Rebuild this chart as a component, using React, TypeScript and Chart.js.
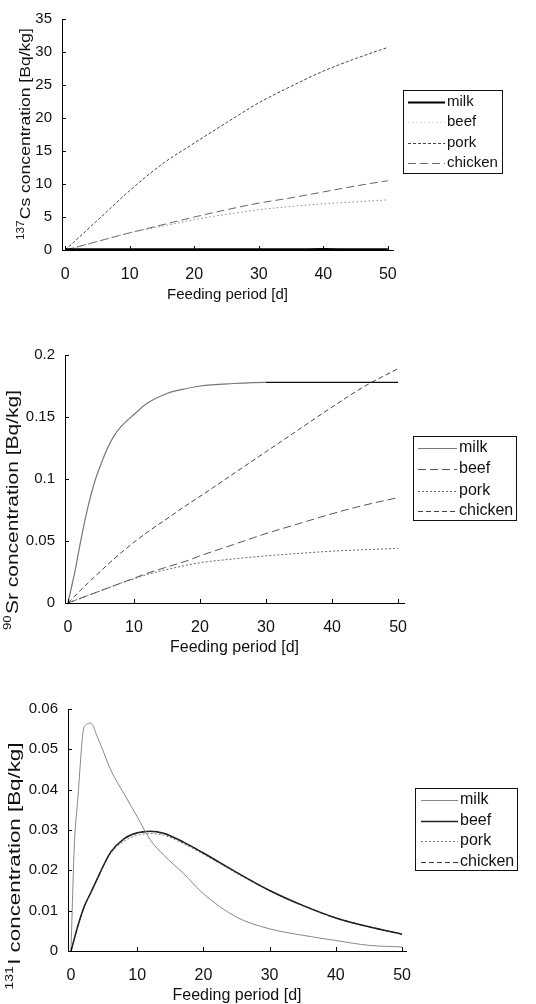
import React, { useEffect, useRef } from "react";
import { Chart, registerables } from "chart.js";

Chart.register(...registerables);
Chart.defaults.font.family = "'Liberation Sans', Arial, sans-serif";

// ---------- data ----------
const seriesNames = ["milk", "beef", "pork", "chicken"];
const xTicks = [0, 10, 20, 30, 40, 50];

// 137Cs
const csDays = [0, 2, 5, 10, 15, 20, 25, 30, 35, 40, 45, 50];
const csMilk = [0.1, 0.1, 0.1, 0.1, 0.1, 0.1, 0.1, 0.1, 0.1, 0.15, 0.1, 0.1];
const csBeef = [0, 0.5, 1.3, 2.6, 3.6, 4.6, 5.4, 6.1, 6.6, 7.0, 7.3, 7.6];
const csPork = [0, 1.8, 4.5, 9.0, 13.0, 16.2, 19.3, 22.3, 24.8, 27.1, 29.0, 30.7];
const csChicken = [0, 0.5, 1.3, 2.6, 3.8, 5.0, 6.1, 7.1, 7.9, 8.8, 9.7, 10.5];
const csYTicks = [0, 5, 10, 15, 20, 25, 30, 35];

// 90Sr
const srDays = [0, 0.5, 1, 2, 3, 4, 5, 6, 7, 8, 10, 12, 15, 18, 20, 25, 30, 35, 40, 45, 50];
const srMilk = [0, 0.012, 0.024, 0.052, 0.077, 0.097, 0.112, 0.125, 0.135, 0.142, 0.152, 0.161, 0.169, 0.173, 0.175, 0.177, 0.178, 0.178, 0.178, 0.178, 0.178];
const srBeef = [0, 0.001, 0.002, 0.004, 0.006, 0.008, 0.01, 0.012, 0.014, 0.016, 0.02, 0.024, 0.029, 0.034, 0.038, 0.047, 0.056, 0.064, 0.072, 0.079, 0.085];
const srPork = [0, 0.001, 0.002, 0.004, 0.006, 0.008, 0.01, 0.012, 0.014, 0.016, 0.0195, 0.023, 0.027, 0.0305, 0.0325, 0.0355, 0.038, 0.04, 0.0418, 0.043, 0.044];
const srChicken = [0, 0.0027, 0.0054, 0.0108, 0.016, 0.021, 0.026, 0.031, 0.0357, 0.0403, 0.049, 0.057, 0.068, 0.079, 0.086, 0.104, 0.122, 0.14, 0.158, 0.175, 0.189];
const srYTicks = [0, 0.05, 0.1, 0.15, 0.2];

// 131I
const iDays = [0, 0.5, 1, 2, 3, 4, 5, 6, 8, 10, 12, 14, 17, 20, 25, 30, 35, 40, 45, 50];
const iMilk = [0, 0.026, 0.037, 0.0556, 0.0565, 0.053, 0.049, 0.0449, 0.039, 0.0333, 0.0275, 0.0238, 0.0192, 0.0142, 0.0084, 0.0055, 0.0039, 0.0026, 0.0014, 0.001];
const iBeef = [0, 0.003, 0.006, 0.011, 0.0145, 0.018, 0.0215, 0.0245, 0.0278, 0.0293, 0.0297, 0.0292, 0.027, 0.0243, 0.0195, 0.015, 0.0113, 0.0082, 0.006, 0.0042];
const iPork = [0, 0.003, 0.006, 0.011, 0.0145, 0.018, 0.0213, 0.0242, 0.0272, 0.0287, 0.0291, 0.0287, 0.0266, 0.024, 0.0193, 0.0149, 0.0112, 0.0081, 0.006, 0.0042];
const iChicken = [0, 0.003, 0.006, 0.011, 0.0145, 0.018, 0.0215, 0.0245, 0.0277, 0.0292, 0.0296, 0.0291, 0.0269, 0.0243, 0.0195, 0.015, 0.0113, 0.0082, 0.006, 0.0042];
const iYTicks = [0, 0.01, 0.02, 0.03, 0.04, 0.05, 0.06];

const xTitle = "Feeding period [d]";

// ---------- styles / layout ----------
type Series = { name: string; values: number[]; color: string; width: number; dash: number[]; legendColor?: string; darkFrom?: number };
type Spec = {
  top: number; h: number;
  area: { l: number; t: number; r: number; b: number };
  xMin: number; xMax: number; yMax: number; yTicks: number[];
  days: number[]; series: Series[];
  yTitle: { sup: string; main: string; cx: number; cy: number; len: number; size: number };
  xTitleSize: number;
  legend: { x: number; y: number; w: number; h: number; rows: number[]; l0: number; l1: number; tx: number; size: number };
};

const specs: Spec[] = [
  {
    top: 0, h: 312,
    area: { l: 62, t: 14, r: 393, b: 250 },
    xMin: -0.5, xMax: 50.8, yMax: 35, yTicks: csYTicks,
    days: csDays,
    series: [
      { name: seriesNames[0], values: csMilk, color: "#000", width: 2, dash: [] },
      { name: seriesNames[1], values: csBeef, color: "#8a8a8a", width: 1, dash: [1.5, 2.5], legendColor: "#cfcfcf" },
      { name: seriesNames[2], values: csPork, color: "#444", width: 1, dash: [3, 2] },
      { name: seriesNames[3], values: csChicken, color: "#666", width: 1, dash: [8, 4] },
    ],
    yTitle: { sup: "137", main: "Cs concentration [Bq/kg]", cx: 25, cy: 134, len: 212, size: 15 },
    xTitleSize: 15,
    legend: { x: 403, y: 90, w: 99, h: 83, rows: [102, 122, 143, 163], l0: 408, l1: 445, tx: 447, size: 15 },
  },
  {
    top: 320, h: 340,
    area: { l: 65, t: 35, r: 404, b: 283 },
    xMin: -0.45, xMax: 50.9, yMax: 0.2, yTicks: srYTicks,
    days: srDays,
    series: [
      { name: seriesNames[0], values: srMilk, color: "#777", width: 1.2, dash: [], darkFrom: 29 },
      { name: seriesNames[1], values: srBeef, color: "#555", width: 1, dash: [8, 4] },
      { name: seriesNames[2], values: srPork, color: "#666", width: 1, dash: [2, 2] },
      { name: seriesNames[3], values: srChicken, color: "#444", width: 1, dash: [5, 3] },
    ],
    yTitle: { sup: "90", main: "Sr concentration [Bq/kg]", cx: 12, cy: 510, len: 240, size: 16 },
    xTitleSize: 16,
    legend: { x: 413, y: 436, w: 103, h: 84, rows: [448, 469, 491, 511], l0: 418, l1: 457, tx: 459, size: 16 },
  },
  {
    top: 660, h: 344,
    area: { l: 68, t: 49, r: 406, b: 291 },
    xMin: -0.45, xMax: 50.6, yMax: 0.06, yTicks: iYTicks,
    days: iDays,
    series: [
      { name: seriesNames[0], values: iMilk, color: "#888", width: 1, dash: [] },
      { name: seriesNames[1], values: iBeef, color: "#222", width: 1.5, dash: [] },
      { name: seriesNames[2], values: iPork, color: "#777", width: 1, dash: [2, 2] },
      { name: seriesNames[3], values: iChicken, color: "#333", width: 1, dash: [5, 3] },
    ],
    yTitle: { sup: "131", main: "I concentration [Bq/kg]", cx: 14, cy: 866, len: 247, size: 16 },
    xTitleSize: 16,
    legend: { x: 415, y: 788, w: 102, h: 82, rows: [800, 821, 841, 862], l0: 421, l1: 458, tx: 460, size: 16 },
  },
];

const FONT = "'Liberation Sans', Arial, sans-serif";
const fmt = (v: number) => String(+Number(v).toFixed(4));

function decorPlugin(spec: Spec) {
  return {
    id: "decor",
    afterDraw(chart: any) {
      const ctx: CanvasRenderingContext2D = chart.ctx;
      const { left, right, bottom } = chart.chartArea;
      const xs = chart.scales.x;
      const ys = chart.scales.y;
      ctx.save();
      ctx.strokeStyle = "#000";
      ctx.lineWidth = 1;
      ctx.setLineDash([]);
      spec.yTicks.forEach((v) => {
        const py = Math.round(ys.getPixelForValue(v)) + 0.5;
        ctx.beginPath();
        ctx.moveTo(left, py);
        ctx.lineTo(left + 4, py);
        ctx.stroke();
      });
      xTicks.forEach((v) => {
        const px = Math.round(xs.getPixelForValue(v)) + 0.5;
        ctx.beginPath();
        ctx.moveTo(px, bottom);
        ctx.lineTo(px, bottom - 4);
        ctx.stroke();
      });

      // x title
      ctx.fillStyle = "#111";
      ctx.font = `${spec.xTitleSize}px ${FONT}`;
      ctx.textAlign = "center";
      ctx.textBaseline = "middle";
      ctx.fillText(xTitle, (left + right) / 2, bottom + 45);

      // y title (rotated, with superscript)
      const yt = spec.yTitle;
      const supSize = Math.round(yt.size * 0.65);
      ctx.save();
      ctx.translate(yt.cx, yt.cy - spec.top);
      ctx.rotate(-Math.PI / 2);
      ctx.font = `${supSize}px ${FONT}`;
      const wSup = ctx.measureText(yt.sup).width;
      ctx.font = `${yt.size}px ${FONT}`;
      const wMain = ctx.measureText(yt.main).width;
      const total = wSup + wMain + 1;
      ctx.scale(yt.len / total, 1);
      ctx.textAlign = "left";
      ctx.textBaseline = "alphabetic";
      const base = yt.size * 0.36;
      const x0 = -total / 2;
      ctx.font = `${supSize}px ${FONT}`;
      ctx.fillText(yt.sup, x0, base - yt.size * 0.42);
      ctx.font = `${yt.size}px ${FONT}`;
      ctx.fillText(yt.main, x0 + wSup + 1, base);
      ctx.restore();

      // legend
      const lg = spec.legend;
      const oy = -spec.top;
      ctx.strokeStyle = "#111";
      ctx.lineWidth = 1;
      ctx.setLineDash([]);
      ctx.strokeRect(lg.x + 0.5, lg.y + oy + 0.5, lg.w, lg.h);
      spec.series.forEach((s, i) => {
        const y = lg.rows[i] + oy + 0.5;
        ctx.beginPath();
        ctx.setLineDash(s.dash);
        ctx.strokeStyle = s.legendColor || s.color;
        ctx.lineWidth = s.width;
        ctx.moveTo(lg.l0, y);
        ctx.lineTo(lg.l1, y);
        ctx.stroke();
        ctx.setLineDash([]);
        ctx.fillStyle = "#111";
        ctx.font = `${lg.size}px ${FONT}`;
        ctx.textAlign = "left";
        ctx.textBaseline = "middle";
        ctx.fillText(s.name, lg.tx, lg.rows[i] + oy);
      });
      ctx.restore();
    },
  };
}

function buildConfig(spec: Spec): any {
  return {
    type: "line",
    data: {
      datasets: spec.series.map((s) => {
        const ds: any = {
          label: s.name,
          data: spec.days.map((d, i) => ({ x: d, y: s.values[i] })),
          borderColor: s.color,
          borderWidth: s.width,
          borderDash: s.dash,
          pointRadius: 0,
          fill: false,
          cubicInterpolationMode: "monotone",
        };
        if (s.darkFrom != null) {
          const df = s.darkFrom;
          ds.segment = { borderColor: (c: any) => (c.p0.parsed.x >= df ? "#111" : s.color) };
        }
        return ds;
      }),
    },
    options: {
      responsive: false,
      animation: false,
      devicePixelRatio: 1,
      layout: {
        padding: { left: 0, top: spec.area.t, right: 536 - spec.area.r, bottom: spec.h - spec.area.b - 30 },
      },
      plugins: { legend: { display: false }, tooltip: { enabled: false } },
      scales: {
        x: {
          type: "linear",
          min: spec.xMin,
          max: spec.xMax,
          afterFit: (sc: any) => { sc.height = 30; },
          afterBuildTicks: (sc: any) => { sc.ticks = xTicks.map((v) => ({ value: v })); },
          grid: { display: false, drawTicks: false },
          border: { display: true, color: "#000", width: 1 },
          ticks: { color: "#111", font: { size: 16 }, padding: 15, maxRotation: 0, autoSkip: false, callback: (v: any) => fmt(v) },
        },
        y: {
          type: "linear",
          min: 0,
          max: spec.yMax,
          afterFit: (sc: any) => { sc.width = spec.area.l; },
          afterBuildTicks: (sc: any) => { sc.ticks = spec.yTicks.map((v) => ({ value: v })); },
          grid: { display: false, drawTicks: false },
          border: { display: true, color: "#000", width: 1 },
          ticks: { color: "#111", font: { size: 15 }, padding: 10, autoSkip: false, callback: (v: any) => fmt(v) },
        },
      },
    },
    plugins: [decorPlugin(spec)],
  };
}

function Panel({ spec }: { spec: Spec }) {
  const ref = useRef<HTMLCanvasElement>(null);
  useEffect(() => {
    const chart = new Chart(ref.current as HTMLCanvasElement, buildConfig(spec));
    return () => chart.destroy();
  }, [spec]);
  return (
    <canvas
      ref={ref}
      width={536}
      height={spec.h}
      style={{ position: "absolute", left: 0, top: spec.top, width: 536, height: spec.h }}
    />
  );
}

export default function App() {
  return (
    <div style={{ position: "fixed", left: 0, top: 0, width: 536, height: 1004, background: "#fff", overflow: "hidden" }}>
      {specs.map((s, i) => (
        <Panel key={i} spec={s} />
      ))}
    </div>
  );
}
